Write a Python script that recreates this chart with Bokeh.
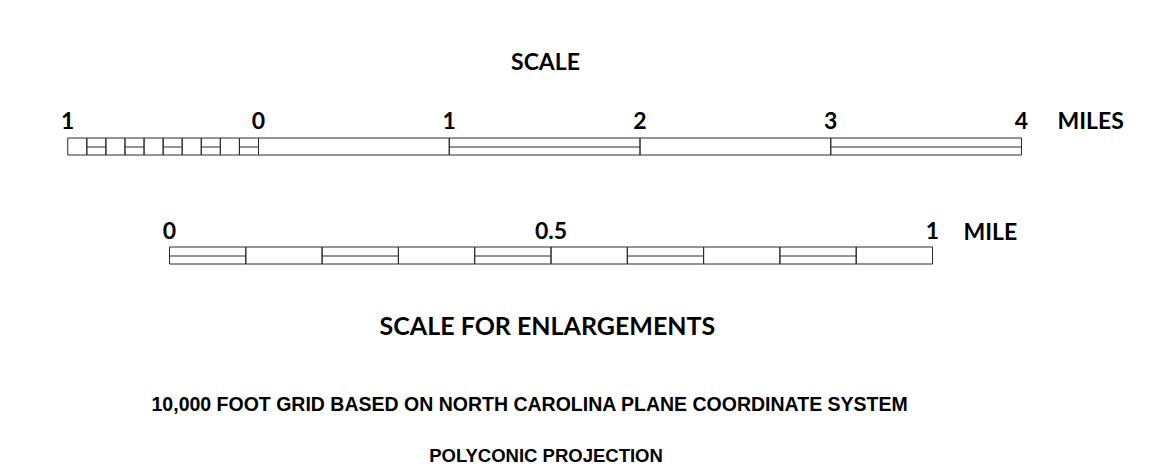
from bokeh.plotting import figure
from bokeh.models import Range1d
from bokeh.core.properties import value
from bokeh.embed import file_html
from bokeh.resources import INLINE

# ---- data (miles) ----
main_ticks = [0, 1, 2, 3, 4]
main_labels = ["0", "1", "2", "3", "4"]
main_split_left = [1, 3]          # main segments drawn with a middle rule
ext_ticks = [-1.0, -0.9, -0.8, -0.7, -0.6, -0.5, -0.4, -0.3, -0.2, -0.1, 0.0]
ext_label_val = [-1.0]
ext_label = ["1"]
ext_split_left = [-0.9, -0.7, -0.5, -0.3, -0.1]
enl_ticks = [0.0, 0.1, 0.2, 0.3, 0.4, 0.5, 0.6, 0.7, 0.8, 0.9, 1.0]
enl_split_left = [0.0, 0.2, 0.4, 0.6, 0.8]
enl_label_vals = [0.0, 0.5, 1.0]
enl_labels = ["0", "0.5", "1"]
main_unit = "MILES"
enl_unit = "MILE"
title_top = "SCALE"
title_enl = "SCALE  FOR  ENLARGEMENTS"
note1 = "10,000 FOOT GRID BASED ON NORTH CAROLINA PLANE COORDINATE SYSTEM"
note2 = "POLYCONIC PROJECTION"

W, H = 1142, 468
main_px = 190.75   # pixels per mile, main scale
main_zero = 258.0
enl_px = 763.0
enl_zero = 169.0

p = figure(width=W, height=H, output_backend="svg", toolbar_location=None,
           x_range=Range1d(-main_zero / main_px, (W - main_zero) / main_px),
           y_range=Range1d(H, 0), min_border=0)
p.extra_x_ranges = {"enl": Range1d(-enl_zero / enl_px, (W - enl_zero) / enl_px)}
p.axis.visible = False
p.grid.visible = False
p.outline_line_color = None
p.background_fill_color = "white"
p.border_fill_color = "white"

LC = "#2a2a2a"
LW = 1

# geometry (pixels from top)
top_t, top_m, top_b = 137.5, 146.5, 154.5
enl_t, enl_m, enl_b = 246.5, 255.5, 263.5

# ---- main scale ----
all_top = ext_ticks[:-1] + main_ticks
lefts = all_top[:-1]
rights = all_top[1:]
p.quad(left=lefts, right=rights, top=[top_t] * len(lefts), bottom=[top_b] * len(lefts),
       fill_color=None, line_color=LC, line_width=LW)
split_l = ext_split_left + main_split_left
split_r = [v + 0.1 for v in ext_split_left] + [v + 1 for v in main_split_left]
p.segment(x0=split_l, x1=split_r, y0=[top_m] * len(split_l), y1=[top_m] * len(split_l),
          line_color=LC, line_width=LW)

BOLD = dict(text_font=value("Lato"), text_font_style="bold", text_color="black",
            text_align="center", text_baseline="middle")
num_y = 119.5
p.text(x=main_ticks + ext_label_val, y=[num_y] * (len(main_ticks) + 1),
       text=main_labels + ext_label, text_font_size="23px", **BOLD)
p.text(x=[main_ticks[-1]], y=[num_y], text=[main_unit], x_offset=36, text_font_size="23px",
       **{**BOLD, "text_align": "left"})

# ---- enlargement scale ----
el = enl_ticks[:-1]
er = enl_ticks[1:]
p.quad(left=el, right=er, top=[enl_t] * len(el), bottom=[enl_b] * len(el),
       fill_color=None, line_color=LC, line_width=LW, x_range_name="enl")
p.segment(x0=enl_split_left, x1=[v + 0.1 for v in enl_split_left],
          y0=[enl_m] * len(enl_split_left), y1=[enl_m] * len(enl_split_left),
          line_color=LC, line_width=LW, x_range_name="enl")
enl_num_y = 230
p.text(x=enl_label_vals, y=[enl_num_y] * len(enl_label_vals), text=enl_labels,
       text_font_size="23px", x_range_name="enl", **BOLD)
p.text(x=[enl_label_vals[-1]], y=[enl_num_y], text=[enl_unit], x_offset=31,
       text_font_size="23px", x_range_name="enl", **{**BOLD, "text_align": "left"})

# ---- titles ----
def mx(px):
    return (px - main_zero) / main_px

p.text(x=[mx(545)], y=[60], text=[title_top], text_font_size="23px", **BOLD)
p.text(x=[mx(553)], y=[324.5], text=[title_enl], text_font_size="25px", **BOLD)
REG = dict(text_font=value("Liberation Sans"), text_font_style="bold", text_color="black",
           text_align="center", text_baseline="middle")
p.text(x=[mx(529.5)], y=[403], text=[note1], text_font_size="19.5px", **REG)
p.text(x=[mx(545.5)], y=[455], text=[note2], text_font_size="18.5px", **REG)

open("out.html", "w").write(file_html(p, INLINE))
